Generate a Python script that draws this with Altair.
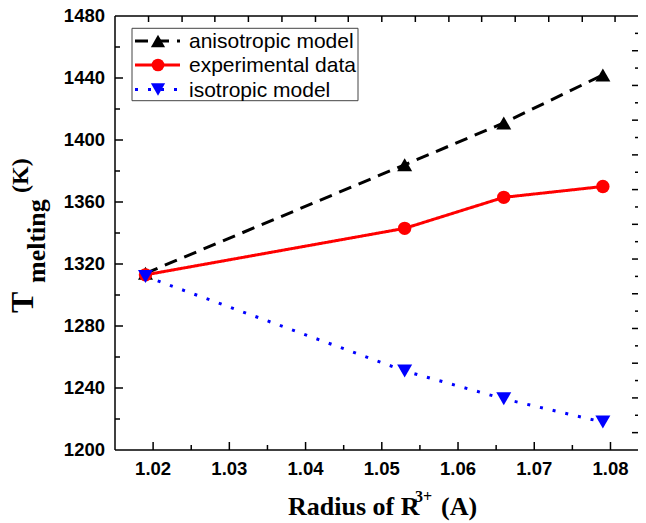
import altair as alt
import pandas as pd

# ---- data ----
radius = [1.019, 1.053, 1.066, 1.079]
aniso = [1314, 1384, 1411, 1442]
exper = [1313, 1343, 1363, 1370]
iso = [1312, 1251, 1233, 1218]
series_names = ["anisotropic model", "experimental data", "isotropic model"]

x_major = [1.02, 1.03, 1.04, 1.05, 1.06, 1.07, 1.08]
x_labels = ["1.02", "1.03", "1.04", "1.05", "1.06", "1.07", "1.08"]
x_minor = [1.025, 1.035, 1.045, 1.055, 1.065, 1.075]
y_major = [1240, 1280, 1320, 1360, 1400, 1440]
y_minor = [1220, 1260, 1300, 1340, 1380, 1420, 1460]
y_labels = [1200, 1240, 1280, 1320, 1360, 1400, 1440, 1480]
top_ticks = [1.0194, 1.0238, 1.0281, 1.0325, 1.0369, 1.0413, 1.0456, 1.05,
             1.0544, 1.0588, 1.0631, 1.0675, 1.0719, 1.0763, 1.0806]
right_major = [1211.2, 1233.6, 1256.0, 1278.4, 1300.8, 1323.2, 1345.6, 1368.0,
               1390.4, 1412.8, 1435.2, 1457.6]
right_minor = [1222.4, 1244.8, 1267.2, 1289.6, 1312.0, 1334.4, 1356.8, 1379.2,
               1401.6, 1424.0, 1446.4, 1468.8]

W, H = 523, 434
X0, X1 = 1.015, 1.08361
Y0, Y1 = 1200, 1480
xs = alt.Scale(domain=[X0, X1], nice=False, zero=False)
ys = alt.Scale(domain=[Y0, Y1], nice=False, zero=False)
ux = (X1 - X0) / W   # data units per pixel
uy = (Y1 - Y0) / H

SANS = "Liberation Sans"
SERIF = "Liberation Serif"

styles = [
    dict(color="#000000", dash=[13, 8], shape="triangle-up", size=225),
    dict(color="#ff0000", dash=[1, 0], shape="circle", size=180),
    dict(color="#0000ff", dash=[3, 10], shape="triangle-down", size=225),
]
values = [aniso, exper, iso]

X = lambda f: alt.X(f, scale=xs, title=None, axis=None)
Y = lambda f: alt.Y(f, scale=ys, title=None, axis=None)

layers = []
one = pd.DataFrame({"a": [0]})

# frame lines (left, bottom, top)
layers.append(alt.Chart(one).mark_rule(color="black", strokeWidth=1.5).encode(
    x=alt.value(0), x2=alt.value(W), y=alt.value(0)))
layers.append(alt.Chart(one).mark_rule(color="black", strokeWidth=1.5).encode(
    x=alt.value(0), x2=alt.value(W), y=alt.value(H)))
layers.append(alt.Chart(one).mark_rule(color="black", strokeWidth=1.5).encode(
    x=alt.value(0), y=alt.value(0), y2=alt.value(H)))

# tick labels placed through the scales
layers.append(alt.Chart(pd.DataFrame({"r": x_major, "lab": x_labels})).mark_text(
    align="center", baseline="top", font=SANS, fontWeight="bold", fontSize=18.5,
    color="black").encode(x=X("r:Q"), y=alt.value(H + 10), text="lab:N"))
layers.append(alt.Chart(pd.DataFrame({"t": y_labels})).mark_text(
    align="right", baseline="middle", font=SANS, fontWeight="bold", fontSize=18.5,
    color="black").encode(y=Y("t:Q"), x=alt.value(-10), text=alt.Text("t:Q", format="d")))

# inward ticks: one table for vertical ticks, one for horizontal ticks
vt = pd.DataFrame({
    "r": x_major + x_minor + top_ticks,
    "a": [Y0] * len(x_major) + [Y0] * len(x_minor) + [Y1] * len(top_ticks),
    "b": [Y0 + 8 * uy] * len(x_major) + [Y0 + 5 * uy] * len(x_minor)
         + [Y1 - 6 * uy] * len(top_ticks),
})
ht = pd.DataFrame({
    "t": y_major + y_minor + right_major + right_minor,
    "a": [X0] * len(y_major) + [X0] * len(y_minor)
         + [X1] * len(right_major) + [X1] * len(right_minor),
    "b": [X0 + 8 * ux] * len(y_major) + [X0 + 5 * ux] * len(y_minor)
         + [X1 - 6 * ux] * len(right_major) + [X1 - 3 * ux] * len(right_minor),
})
layers.append(alt.Chart(vt).mark_rule(color="black", strokeWidth=1.5).encode(
    x=X("r:Q"), y=Y("a:Q"), y2="b:Q"))
layers.append(alt.Chart(ht).mark_rule(color="black", strokeWidth=1.5).encode(
    y=Y("t:Q"), x=X("a:Q"), x2="b:Q"))

# data lines and markers
for vals, st in zip(values, styles):
    d = pd.DataFrame({"r": radius, "t": vals})
    layers.append(alt.Chart(d).mark_line(color=st["color"], strokeWidth=3,
                                         strokeDash=st["dash"]).encode(
        x=X("r:Q"), y=Y("t:Q")))
for vals, st in zip(values, styles):
    d = pd.DataFrame({"r": radius, "t": vals})
    layers.append(alt.Chart(d).mark_point(shape=st["shape"], filled=True, opacity=1,
                                          color=st["color"], size=st["size"]).encode(
        x=X("r:Q"), y=Y("t:Q")))

# legend
layers.append(alt.Chart(one).mark_rect(fill="white", stroke="#444444", strokeWidth=1).encode(
    x=alt.value(17), x2=alt.value(243), y=alt.value(12.3), y2=alt.value(84.7)))
row_y = [25, 49, 73.5]
for name, st, ry in zip(series_names, styles, row_y):
    ld = pd.DataFrame({"name": [name]})
    layers.append(alt.Chart(ld).mark_rule(color=st["color"], strokeWidth=3,
                                          strokeDash=st["dash"]).encode(
        x=alt.value(20), x2=alt.value(65), y=alt.value(ry)))
    layers.append(alt.Chart(ld).mark_point(shape=st["shape"], filled=True, opacity=1,
                                           color=st["color"], size=st["size"] * 0.9).encode(
        x=alt.value(43), y=alt.value(ry)))
    layers.append(alt.Chart(ld).mark_text(align="left", baseline="middle", font=SANS,
                                          fontSize=21, color="black").encode(
        text="name:N", x=alt.value(74), y=alt.value(ry + 1)))

# axis titles
def label(txt, x, y, size, angle=0):
    return alt.Chart(pd.DataFrame({"s": [txt]})).mark_text(
        align="left", baseline="alphabetic", font=SERIF, fontWeight="bold",
        fontSize=size, color="black", angle=angle).encode(
        text="s:N", x=alt.value(x), y=alt.value(y))

layers += [
    label("Radius of R", 173, 499, 26),
    label("3+", 300, 486, 16),
    label("(A)", 326, 499, 26),
    label("T", -82, 297, 32, 270),
    label("melting", -70, 267, 26, 270),
    label("(K)", -87, 177, 24, 270),
]

chart = alt.layer(*layers).properties(
    width=W, height=H,
    padding={"left": 107, "top": 8, "right": 0, "bottom": 73},
    autosize=alt.AutoSizeParams(type="none"),
    background="white",
).configure_view(stroke=None)

chart.save("out.html", embed_options={"renderer": "svg", "actions": False})
